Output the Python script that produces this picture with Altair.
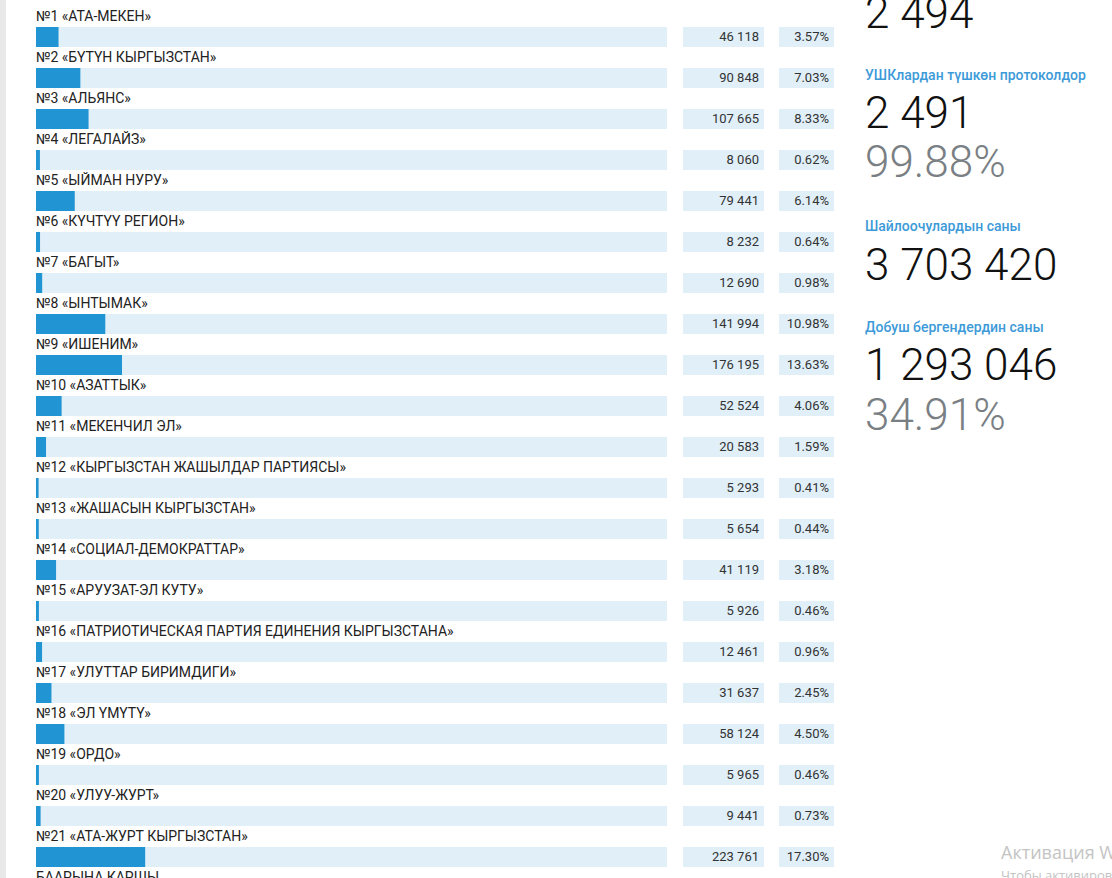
import altair as alt
import pandas as pd

parties = [
    "№1 «АТА-МЕКЕН»", "№2 «БҮТҮН КЫРГЫЗСТАН»", "№3 «АЛЬЯНС»", "№4 «ЛЕГАЛАЙЗ»",
    "№5 «ЫЙМАН НУРУ»", "№6 «КҮЧТҮҮ РЕГИОН»", "№7 «БАГЫТ»", "№8 «ЫНТЫМАК»",
    "№9 «ИШЕНИМ»", "№10 «АЗАТТЫК»", "№11 «МЕКЕНЧИЛ ЭЛ»",
    "№12 «КЫРГЫЗСТАН ЖАШЫЛДАР ПАРТИЯСЫ»", "№13 «ЖАШАСЫН КЫРГЫЗСТАН»",
    "№14 «СОЦИАЛ-ДЕМОКРАТТАР»", "№15 «АРУУЗАТ-ЭЛ КУТУ»",
    "№16 «ПАТРИОТИЧЕСКАЯ ПАРТИЯ ЕДИНЕНИЯ КЫРГЫЗСТАНА»", "№17 «УЛУТТАР БИРИМДИГИ»",
    "№18 «ЭЛ ҮМҮТҮ»", "№19 «ОРДО»", "№20 «УЛУУ-ЖУРТ»", "№21 «АТА-ЖУРТ КЫРГЫЗСТАН»",
]
votes = [46118, 90848, 107665, 8060, 79441, 8232, 12690, 141994, 176195, 52524,
         20583, 5293, 5654, 41119, 5926, 12461, 31637, 58124, 5965, 9441, 223761]
shares = [3.57, 7.03, 8.33, 0.62, 6.14, 0.64, 0.98, 10.98, 13.63, 4.06,
          1.59, 0.41, 0.44, 3.18, 0.46, 0.96, 2.45, 4.50, 0.46, 0.73, 17.30]
extra_label = "БААРЫНА КАРШЫ"

stat_top_value = "2 494"
stat_labels = ["УШКлардан түшкөн протоколдор", "Шайлоочулардын саны", "Добуш бергендердин саны"]
stat_values = ["2 491", "3 703 420", "1 293 046"]
stat_pcts = ["99.88%", None, "34.91%"]
watermark = ["Активация Windows", "Чтобы активировать Windows, перейдите в раздел \"Параметры\"."]

labels_all = parties + [extra_label]
df = pd.DataFrame({
    "row": list(range(len(parties))),
    "party": parties,
    "votes": votes,
    "share": shares,
})
df["votes_txt"] = [f"{v:,}".replace(",", " ") for v in votes]
df["share_txt"] = [f"{s:.2f}%" for s in shares]
lab_df = pd.DataFrame({"row": list(range(len(labels_all))), "party": labels_all})

W, H = 1112, 878
PITCH = 41.0
ROW0 = 16.0
yscale = alt.Scale(domain=[-ROW0 / PITCH, (H - ROW0) / PITCH], range=[0, H], nice=False, zero=False)
xscale = alt.Scale(domain=[0, 100], range=[36, 667], nice=False, zero=False)

BLUE = "#2194d4"
LIGHT = "#e0eff8"
FONT = "Roboto"

base = alt.Chart(df)

bg = base.mark_rect(color=LIGHT).transform_calculate(
    y0="datum.row + 11/41", y1="datum.row + 31/41", z="0", f="100"
).encode(
    x=alt.X("z:Q", scale=xscale, axis=None),
    x2="f:Q",
    y=alt.Y("y0:Q", scale=yscale, axis=None),
    y2="y1:Q",
)
bars = base.mark_rect(color=BLUE).transform_calculate(
    y0="datum.row + 11/41", y1="datum.row + 31/41", z="0"
).encode(
    x=alt.X("z:Q", scale=xscale, axis=None),
    x2="share:Q",
    y=alt.Y("y0:Q", scale=yscale, axis=None),
    y2="y1:Q",
)
box_v = base.mark_rect(color=LIGHT).transform_calculate(
    y0="datum.row + 11/41", y1="datum.row + 31/41"
).encode(
    x=alt.value(683), x2=alt.value(764),
    y=alt.Y("y0:Q", scale=yscale, axis=None), y2="y1:Q",
)
box_p = base.mark_rect(color=LIGHT).transform_calculate(
    y0="datum.row + 11/41", y1="datum.row + 31/41"
).encode(
    x=alt.value(779), x2=alt.value(834),
    y=alt.Y("y0:Q", scale=yscale, axis=None), y2="y1:Q",
)
txt_v = base.mark_text(align="right", baseline="alphabetic", font=FONT, fontSize=13, color="#333333").transform_calculate(
    yb="datum.row + 25/41"
).encode(
    x=alt.value(759), y=alt.Y("yb:Q", scale=yscale, axis=None), text="votes_txt:N",
)
txt_p = base.mark_text(align="right", baseline="alphabetic", font=FONT, fontSize=13, color="#333333").transform_calculate(
    yb="datum.row + 25/41"
).encode(
    x=alt.value(829), y=alt.Y("yb:Q", scale=yscale, axis=None), text="share_txt:N",
)
labels = alt.Chart(lab_df).mark_text(align="left", baseline="alphabetic", font=FONT, fontSize=14, color="#222222").transform_calculate(
    yb="datum.row + 5/41"
).encode(
    x=alt.value(36), y=alt.Y("yb:Q", scale=yscale, axis=None), text="party:N",
)

one = pd.DataFrame({"k": [0]})


def t(text, x, y, size, color, weight="normal", font=FONT):
    return alt.Chart(one).mark_text(
        text=text, align="left", baseline="alphabetic", font=font,
        fontSize=size, color=color, fontWeight=weight,
    ).encode(x=alt.value(x), y=alt.value(y))


strip = alt.Chart(one).mark_rect(color="#e8e8e8").encode(
    x=alt.value(0), x2=alt.value(6), y=alt.value(0), y2=alt.value(H)
)

LBL = "#3d9ad8"
GRAY = "#7a7f84"
BIG = 44
right = [
    t(stat_top_value, 865, 28, BIG, "#111111", 300),
    t(stat_labels[0], 865, 80, 14, LBL, 500),
    t(stat_values[0], 865, 128, BIG, "#111111", 300),
    t(stat_pcts[0], 865, 177, BIG, GRAY, 300),
    t(stat_labels[1], 865, 231, 14, LBL, 500),
    t(stat_values[1], 865, 280, BIG, "#111111", 300),
    t(stat_labels[2], 865, 332, 14, LBL, 500),
    t(stat_values[2], 865, 380, BIG, "#111111", 300),
    t(stat_pcts[2], 865, 430, BIG, GRAY, 300),
    t(watermark[0], 1001, 859, 18, "#c4c4c4", "normal", "Open Sans"),
    t(watermark[1], 1001, 880, 13, "#c4c4c4", "normal", "Open Sans"),
]

chart = alt.layer(strip, bg, bars, box_v, box_p, txt_v, txt_p, labels, *right).properties(
    width=W, height=H, padding=0, autosize=alt.AutoSizeParams(type="none"), background="white"
).configure_view(stroke=None)

chart.save("out.html", embed_options={"renderer": "svg", "actions": False})
